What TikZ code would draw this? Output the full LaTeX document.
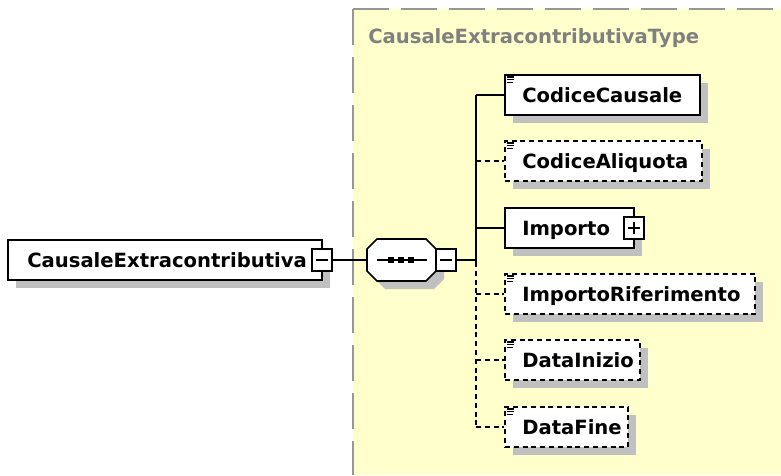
\documentclass[tikz,border=0pt]{standalone}
\usepackage{fontspec}
\setmainfont{DejaVu Sans}
\usetikzlibrary{shadows,fit}
\definecolor{bgyellow}{RGB}{255,255,204}
\definecolor{framegray}{RGB}{150,150,150}
\definecolor{titlegray}{RGB}{128,128,128}
\definecolor{shadowgray}{RGB}{192,192,192}
\begin{document}
\begin{tikzpicture}[x=0.75pt,y=-0.75pt,
  lbl/.style={anchor=base west, inner sep=0pt, font=\fontsize{14.7}{18}\selectfont\bfseries},
  ebox/.style={draw, line width=1.15pt, fill=white, inner sep=0pt,
    drop shadow={shadow xshift=6pt, shadow yshift=-6pt, fill=shadowgray, opacity=1}},
  optbox/.style={ebox, dash pattern=on 3.8pt off 2.8pt},
  tog/.style={draw, line width=0.9pt, fill=white, inner sep=0pt},
  conn/.style={line width=1.15pt},
  optconn/.style={conn, dash pattern=on 3.8pt off 2.8pt},
  docicon/.pic={\draw[line width=0.9pt] (2.5,2.8)--(9.5,2.8) (2.5,5.5)--(9.5,5.5) (2.5,8.2)--(8.5,8.2);}
]
\useasboundingbox (0,0) rectangle (781,475);
% type background
\fill[bgyellow] (353,9) rectangle (781,475);
\draw[framegray, line width=1.5pt, dash pattern=on 27pt off 9pt] (353,9) -- (353,475);
\draw[framegray, line width=1.5pt, dash pattern=on 27pt off 9pt] (353,9) -- (781,9);
\node[lbl, text=titlegray] (title) at (368,43) {CausaleExtracontributivaType};

% root element
\node[ebox, fit={(8,240) (322,280)}] (root) {};
\node[lbl] (roottxt) at (27,267) {CausaleExtracontributiva};
\node[tog, fit={(312,249) (332,271)}] (rootmin) {};
\draw[line width=0.9pt] ([xshift=-4.5pt]rootmin.center) -- ([xshift=4.5pt]rootmin.center);

% sequence compositor
\draw[ebox] (377,239) -- (426,239) -- (436,249) -- (436,271) -- (426,281) -- (377,281) -- (367,271) -- (367,249) -- cycle;
\coordinate (seqw) at (367,260);
\coordinate (seqe) at (436,260);
\draw[line width=0.9pt] (377,260) -- (427,260);
\foreach \sx in {391,401,411} \fill (\sx-3,257) rectangle (\sx+3,263);
\node[tog, fit={(436,249) (456,271)}] (seqmin) {};
\draw[line width=0.9pt] ([xshift=-4.5pt]seqmin.center) -- ([xshift=4.5pt]seqmin.center);

\draw[conn] (rootmin.east) -- (seqw);

% children
\node[ebox, fit={(505,75) (700,115)}] (cc) {};
\node[lbl] (cctxt) at (522,102) {CodiceCausale};
\pic at (cc.north west) {docicon};

\node[optbox, fit={(505,141) (702,181)}] (ca) {};
\node[lbl] (catxt) at (522,168) {CodiceAliquota};
\pic at (ca.north west) {docicon};

\node[ebox, fit={(505,208) (634,248)}] (imp) {};
\node[lbl] (imptxt) at (522,235) {Importo};
\node[tog, fit={(624,217) (644,239)}] (impplus) {};
\draw[line width=0.9pt] ([xshift=-4.5pt]impplus.center) -- ([xshift=4.5pt]impplus.center)
  ([yshift=-4.5pt]impplus.center) -- ([yshift=4.5pt]impplus.center);

\node[optbox, fit={(505,274) (755,314)}] (ir) {};
\node[lbl] (irtxt) at (522,301) {ImportoRiferimento};
\pic at (ir.north west) {docicon};

\node[optbox, fit={(505,340) (640,380)}] (di) {};
\node[lbl] (ditxt) at (522,367) {DataInizio};
\pic at (di.north west) {docicon};

\node[optbox, fit={(505,407) (628,447)}] (df) {};
\node[lbl] (dftxt) at (522,434) {DataFine};
\pic at (df.north west) {docicon};

% trunk
\coordinate (tt) at (476,95);
\coordinate (tm) at (476,262);
\coordinate (tb) at (476,427);
\draw[conn] (seqmin.east) -- (seqmin.east -| tt);
\draw[conn] (tt) -- (tm);
\draw[optconn] (tm) -- (tb);
\draw[conn] (cc.west -| tt) -- (cc.west);
\draw[optconn] (ca.west -| tt) -- (ca.west);
\draw[conn] (imp.west -| tt) -- (imp.west);
\draw[optconn] (ir.west -| tt) -- (ir.west);
\draw[optconn] (di.west -| tt) -- (di.west);
\draw[optconn] (df.west -| tt) -- (df.west);
\end{tikzpicture}
\end{document}
